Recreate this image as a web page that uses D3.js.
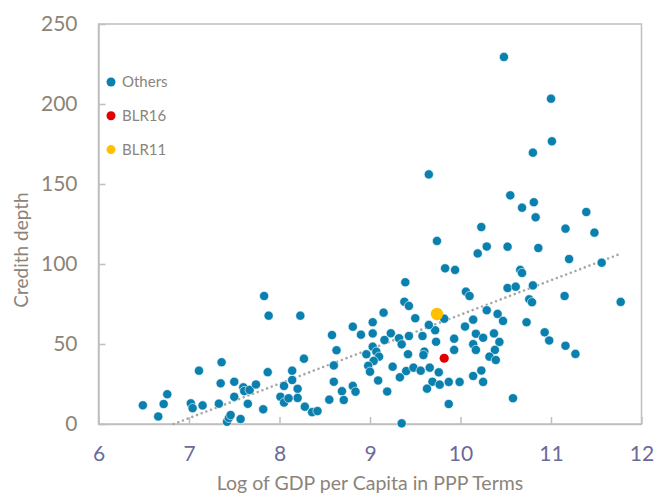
<!DOCTYPE html>
<html>
<head>
  <meta charset="utf-8">
  <title>Credit depth vs GDP per capita</title>
  <style>
    html, body { margin: 0; padding: 0; background: #fff; }
    svg { display: block; font-family: Lato, "Open Sans", sans-serif; }
  </style>
</head>
<body>
  <svg id="main" width="655" height="493"></svg>

  <script src="https://cdn.jsdelivr.net/npm/d3@7/dist/d3.min.js"></script>
  <script>
    // log GDP per capita (PPP) for the "Others" group
    const othersX = [
      6.49, 6.66, 6.72, 6.76, 7.02, 7.04, 7.15, 7.11, 7.36, 7.35,
      7.33, 7.50, 7.50, 7.60, 7.61, 7.67, 7.74, 7.65, 7.57, 7.42,
      7.44, 7.46, 7.82, 7.83, 7.88, 7.87, 8.23, 8.14, 8.14, 8.05,
      8.20, 8.20, 8.01, 8.05, 8.10, 8.27, 8.28, 8.36, 8.42, 8.55,
      8.58, 8.63, 8.60, 8.60, 8.69, 8.71, 8.81, 8.90, 9.03, 9.15,
      9.03, 9.23, 9.16, 9.32, 9.35, 9.43, 9.03, 9.07, 8.96, 9.10,
      9.04, 8.98, 9.00, 9.09, 8.81, 8.84, 9.19, 9.25, 9.40, 9.33,
      9.48, 9.56, 9.66, 9.76, 9.69, 9.77, 9.87, 9.99, 9.63, 9.42,
      9.60, 9.59, 9.73, 9.93, 9.93, 9.72, 9.65, 9.50, 9.82, 9.58,
      9.38, 9.43, 9.39, 9.65, 9.74, 9.83, 9.94, 10.06, 10.10, 9.87,
      9.35, 10.05, 10.14, 10.29, 10.41, 10.47, 10.73, 10.93, 10.98, 11.16,
      11.27, 10.17, 10.25, 10.37, 10.43, 10.14, 10.17, 10.38, 10.32, 10.39,
      10.23, 10.14, 10.25, 10.58, 10.23, 10.19, 10.29, 10.52, 10.48, 10.55,
      10.68, 10.81, 10.83, 10.80, 11.00, 11.01, 10.86, 10.66, 10.68, 10.52,
      10.61, 10.80, 10.76, 10.79, 11.15, 11.77, 11.20, 11.16, 11.39, 11.48,
      11.56
    ]
    // credit depth for the "Others" group
    const othersY = [
      11.7, 4.7, 12.5, 18.6, 12.9, 9.9, 11.6, 33.3, 38.6, 25.4,
      12.7, 26.4, 17.0, 22.9, 20.6, 21.3, 24.7, 12.6, 3.1, 1.4,
      3.8, 5.6, 9.2, 80.0, 67.7, 32.4, 67.7, 33.3, 27.5, 23.8,
      22.0, 16.3, 17.0, 13.4, 16.1, 40.8, 10.8, 7.4, 8.1, 15.2,
      55.6, 46.1, 36.6, 26.4, 20.5, 15.0, 60.8, 55.8, 63.6, 69.6,
      56.6, 56.7, 52.5, 53.6, 49.8, 55.0, 48.3, 45.2, 43.6, 42.1,
      39.4, 36.4, 32.7, 27.2, 23.8, 20.2, 20.3, 35.8, 33.1, 29.2,
      35.2, 33.3, 35.2, 32.3, 26.4, 24.6, 26.3, 26.3, 22.1, 43.6,
      45.2, 43.1, 51.4, 53.3, 46.3, 58.6, 61.9, 66.1, 65.8, 55.0,
      76.4, 73.8, 88.6, 156.0, 114.4, 97.3, 96.3, 82.7, 80.0, 12.5,
      0.4, 60.9, 65.2, 71.1, 68.8, 64.4, 63.6, 57.3, 52.2, 48.9,
      43.8, 56.4, 53.9, 56.6, 51.3, 49.9, 46.3, 46.3, 42.1, 40.0,
      33.4, 30.0, 26.3, 16.1, 123.1, 106.6, 110.9, 110.8, 229.4, 142.9,
      135.2, 138.6, 129.2, 169.6, 203.3, 176.7, 110.0, 96.3, 94.4, 85.0,
      85.8, 86.6, 77.9, 76.1, 80.0, 76.3, 103.1, 122.1, 132.5, 119.6,
      100.8
    ]
    const blr16 = [9.82, 41.1]
    const blr11 = [9.74, 68.75]

    // dotted trend line, start and end (x, y)
    const trendX = [6.83, 11.75]
    const trendY = [0, 106]

    const xTicks = [6, 7, 8, 9, 10, 11, 12]
    const yTicks = [0, 50, 100, 150, 200, 250]
    const legendNames = ['Others', 'BLR16', 'BLR11']

    const svg = d3.select('#main')
    const width = +svg.attr('width')
    const height = +svg.attr('height')
    const margin = { top: 24, right: 13.5, bottom: 69, left: 98.5 }
    const innerWidth = width - margin.left - margin.right
    const innerHeight = height - margin.top - margin.bottom

    const colors = { others: '#0a80ae', blr16: '#e00000', blr11: '#ffc000' }

    const chart = svg.append('g')
      .attr('transform', `translate(${margin.left},${margin.top})`)

    const xScale = d3.scaleLinear().domain([6, 12]).range([0, innerWidth])
    const yScale = d3.scaleLinear().domain([0, 250]).range([innerHeight, 0])

    // plot frame
    chart.append('rect')
      .attr('width', innerWidth)
      .attr('height', innerHeight)
      .attr('fill', 'none')
      .attr('stroke', '#bfbfbf')
      .attr('stroke-width', 1.5)

    const xAxis = d3.axisBottom(xScale)
      .tickValues(xTicks)
      .tickFormat(d3.format('d'))
      .tickSizeInner(-7).tickSizeOuter(0).tickPadding(22)
    const gx = chart.append('g')
      .attr('transform', `translate(0,${innerHeight})`)
      .call(xAxis)
    gx.select('.domain').attr('stroke', '#bfbfbf').attr('stroke-width', 1.5)
    gx.selectAll('.tick line').attr('stroke', '#bfbfbf').attr('stroke-width', 1.5)
    gx.selectAll('.tick text')
      .attr('font-size', '21px')
      .attr('font-family', 'Lato, sans-serif')
      .attr('fill', '#6a6a9c')

    const yAxis = d3.axisLeft(yScale).tickValues(yTicks).tickSizeInner(-7).tickSizeOuter(0).tickPadding(21)
    const gy = chart.append('g').call(yAxis)
    gy.select('.domain').attr('stroke', '#bfbfbf').attr('stroke-width', 1.5)
    gy.selectAll('.tick line').attr('stroke', '#bfbfbf').attr('stroke-width', 1.5)
    gy.selectAll('.tick text')
      .attr('font-size', '21px')
      .attr('font-family', 'Lato, sans-serif')
      .attr('fill', '#8c837a')

    // trend line
    const line = d3.line().x(d => xScale(d[0])).y(d => yScale(d[1]))
    chart.append('path')
      .datum(d3.zip(trendX, trendY))
      .attr('fill', 'none')
      .attr('stroke', '#a6a6a6')
      .attr('stroke-width', 2.6)
      .attr('stroke-linecap', 'round')
      .attr('stroke-dasharray', '0 5')
      .attr('d', line)

    // scatter points
    chart.append('g').selectAll('circle')
      .data(d3.zip(othersX, othersY))
      .join('circle')
      .attr('cx', d => xScale(d[0]))
      .attr('cy', d => yScale(d[1]))
      .attr('r', 4.6)
      .attr('fill', colors.others)
      .attr('stroke', '#fff')
      .attr('stroke-width', 0.6)

    chart.append('circle')
      .attr('cx', xScale(blr16[0]))
      .attr('cy', yScale(blr16[1]))
      .attr('r', 4.6)
      .attr('fill', colors.blr16)

    chart.append('circle')
      .attr('cx', xScale(blr11[0]))
      .attr('cy', yScale(blr11[1]))
      .attr('r', 6.2)
      .attr('fill', colors.blr11)

    // legend
    const legendColors = [colors.others, colors.blr16, colors.blr11]
    const legend = svg.append('g').attr('transform', 'translate(111,82)')
    legendNames.forEach((name, i) => {
      const row = legend.append('g').attr('transform', `translate(0,${i * 33.8})`)
      row.append('circle').attr('r', 4.5).attr('fill', legendColors[i])
      row.append('text')
        .attr('x', 11)
        .attr('dy', '0.35em')
        .attr('font-size', '15px')
        .attr('fill', '#8c837a')
        .text(name)
    })

    // axis titles
    svg.append('text')
      .attr('x', margin.left + innerWidth / 2)
      .attr('y', 490)
      .attr('text-anchor', 'middle')
      .attr('font-size', '19.5px')
      .attr('fill', '#8c837a')
      .text('Log of GDP per Capita in PPP Terms')

    svg.append('text')
      .attr('transform', 'translate(28,250) rotate(-90)')
      .attr('text-anchor', 'middle')
      .attr('font-size', '19px')
      .attr('fill', '#8c837a')
      .text('Credith depth')
  </script>
</body>
</html>
